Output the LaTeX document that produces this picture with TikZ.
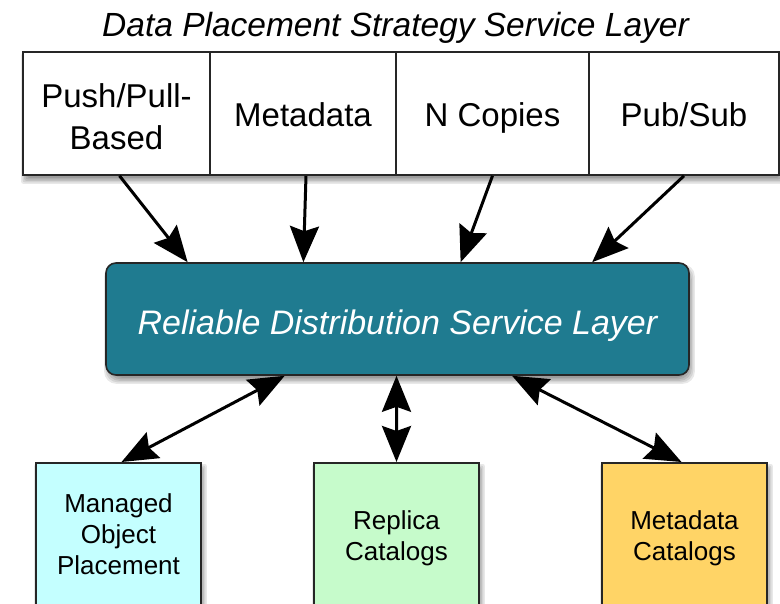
\documentclass[tikz,border=0pt]{standalone}
\usepackage{fontspec}
\setmainfont{Liberation Sans}
\usetikzlibrary{arrows.meta,calc,backgrounds}
\definecolor{teal1}{RGB}{31,123,144}
\definecolor{cyanbox}{RGB}{196,255,255}
\definecolor{greenbox}{RGB}{198,251,203}
\definecolor{orangebox}{RGB}{255,212,102}
\newcommand\dshadow[3]{% from corner, to corner, radius
  \foreach \e in {-3,-1.5,0,1.5,3}{
    \fill[black,opacity=0.09,rounded corners=#3] ($(#1)+(2-\e,5-\e)$) rectangle ($(#2)+(2+\e,5+\e)$);
  }}
\tikzset{
  cell/.style={draw=black!85,line width=1.6pt,fill=white,minimum height=123pt,inner sep=0pt},
  botbox/.style={draw=black!85,line width=1.6pt,minimum width=165pt,minimum height=160pt,inner sep=0pt,anchor=north},
  bigtxt/.style={font=\fontsize{33}{42}\selectfont,align=center,inner sep=0pt},
  smalltxt/.style={font=\fontsize{26}{31}\selectfont,align=center,inner sep=0pt},
  conn/.style={line width=3pt,-{Stealth[length=36pt,width=29pt,inset=5pt]}},
  dconn/.style={line width=3pt,{Stealth[length=36pt,width=29pt,inset=5pt]}-{Stealth[length=36pt,width=29pt,inset=5pt]}}
}
\begin{document}
\begin{tikzpicture}[x=1pt,y=-1pt]
\useasboundingbox (0,0) rectangle (780,604);
% title
\node[bigtxt,anchor=base,font=\fontsize{33.5}{40}\selectfont\itshape] (title) at (395.5,37) {Data Placement Strategy Service Layer};
% top row
\node[cell,minimum width=187pt] (p1) at (116.5,113.5) {};
\node[cell,minimum width=186pt] (p2) at (303,113.5) {};
\node[cell,minimum width=193pt] (p3) at (492.5,113.5) {};
\node[cell,minimum width=190pt] (p4) at (684,113.5) {};
\node[bigtxt] (t1) at (116.5,117) {Push/Pull-\\Based};
\node[bigtxt,anchor=base] (t2) at (303,127) {Metadata};
\node[bigtxt,anchor=base] (t3) at (492.5,127) {N Copies};
\node[bigtxt,anchor=base] (t4) at (684,127) {Pub/Sub};
% central
\node[draw=black!85,line width=1.6pt,fill=teal1,rounded corners=10pt,minimum width=583pt,minimum height=112pt] (rd) at (397.5,319) {};
\node[bigtxt,anchor=base,text=white,font=\fontsize{34}{40}\selectfont\itshape] (rdl) at (397.5,335) {Reliable Distribution Service Layer};
% bottom boxes
\node[botbox,fill=cyanbox] (m1) at (118.5,462) {};
\node[botbox,fill=greenbox] (m2) at (396.5,462) {};
\node[botbox,fill=orangebox] (m3) at (684.5,462) {};
\node[smalltxt] (l1) at (118.5,534) {Managed\\Object\\Placement};
\node[smalltxt] (l2) at (396.5,538) {Replica\\Catalogs};
\node[smalltxt] (l3) at (684.5,538) {Metadata\\Catalogs};
% shadows
\begin{scope}[on background layer]
  \fill[white] (0,0) rectangle (780,604);
  \dshadow{p1.north west}{p4.south east}{2pt}
  \dshadow{rd.north west}{rd.south east}{12pt}
  \dshadow{m1.north west}{m1.south east}{2pt}
  \dshadow{m2.north west}{m2.south east}{2pt}
  \dshadow{m3.north west}{m3.south east}{2pt}
\end{scope}
% connectors
\draw[conn] ($(p1.south)+(3,0)$) -- ($(rd.north west)!0.141!(rd.north east)$);
\draw[conn] ($(p2.south)+(3,0)$) -- ($(rd.north west)!0.339!(rd.north east)$);
\draw[conn] (p3.south) -- ($(rd.north west)!0.608!(rd.north east)$);
\draw[conn] (p4.south) -- ($(rd.north west)!0.833!(rd.north east)$);
\draw[dconn] ($(rd.south west)!0.307!(rd.south east)$) -- ($(m1.north)+(3,0)$);
\draw[dconn] ($(rd.south west)!0.4983!(rd.south east)$) -- (m2.north);
\draw[dconn] ($(rd.south west)!0.696!(rd.south east)$) -- ($(m3.north)+(-3,0)$);
\end{tikzpicture}
\end{document}
